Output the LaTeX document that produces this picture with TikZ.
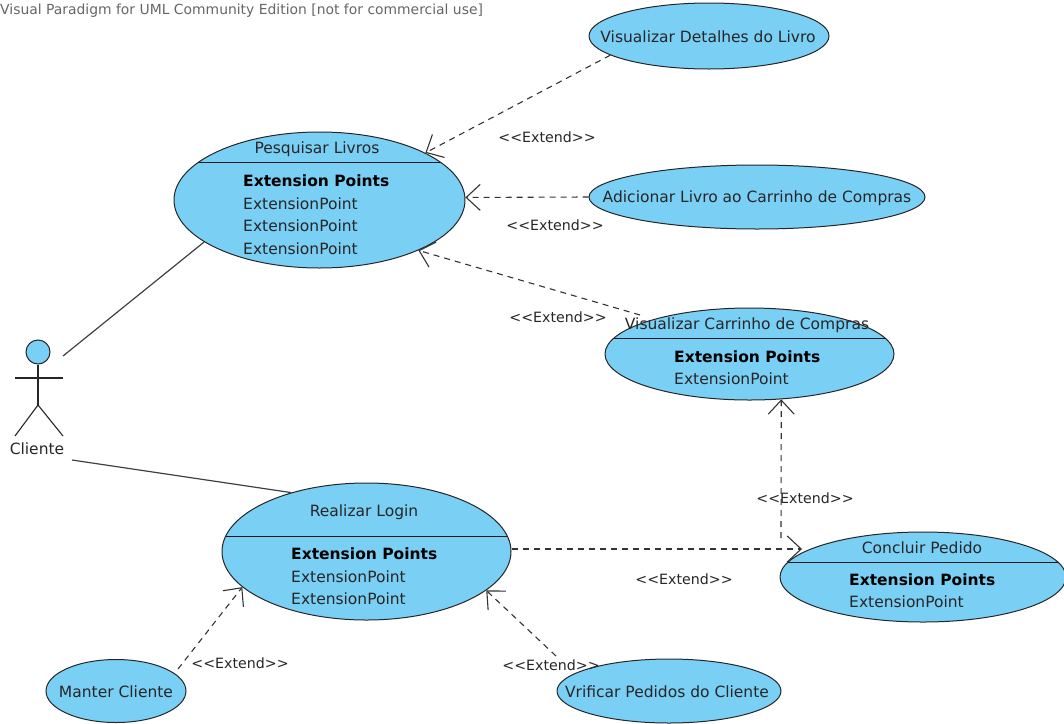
\documentclass[tikz,border=0pt]{standalone}
\usepackage{fontspec}
\setmainfont{DejaVu Sans}
\usetikzlibrary{arrows.meta, shapes.geometric}
\definecolor{ucfill}{RGB}{122,207,245}
\tikzset{
  usecase/.style={ellipse, draw=black!85, fill=ucfill, line width=1pt, inner sep=0pt},
  split/.style={path picture={\draw[black!90, line width=1pt] ([yshift=-#1]path picture bounding box.north west) -- ([yshift=-#1]path picture bounding box.north east);}},
  uctext/.style={font=\fontsize{15.5pt}{17pt}\selectfont, text=black!85, inner sep=0pt},
  ucbold/.style={font=\fontsize{15.5pt}{17pt}\selectfont\bfseries, text=black, anchor=west, inner sep=0pt},
  ucpoint/.style={uctext, anchor=west},
  extendlabel/.style={uctext, font=\fontsize{14.2pt}{16pt}\selectfont},
  extend/.style={black!80, line width=1.1pt, dash pattern=on 6pt off 5pt, -{Straight Barb[length=14pt, width=26pt, line width=1.1pt]}},
  assoc/.style={black!75, line width=1.2pt},
  limb/.style={black!85, line width=1.1pt}
}
\begin{document}
\begin{tikzpicture}[x=1pt, y=-1pt]
\useasboundingbox (0,0) rectangle (1064,723);
\node[uctext, text=black!60, anchor=west, font=\fontsize{13.9pt}{15pt}\selectfont] (banner) at (0,11) {Visual Paradigm for UML Community Edition [not for commercial use]};
% use cases
\node[usecase, minimum width=240pt, minimum height=66pt] (detalhes) at (709,36) {};
\node[usecase, split=30pt, minimum width=291pt, minimum height=136pt] (pesquisar) at (319.5,200) {};
\node[usecase, minimum width=336pt, minimum height=64pt] (adicionar) at (757,197) {};
\node[usecase, split=30pt, minimum width=289pt, minimum height=92pt] (carrinho) at (749.5,354) {};
\node[usecase, split=53pt, minimum width=289pt, minimum height=137pt] (login) at (366.5,551.5) {};
\node[usecase, split=30pt, minimum width=286pt, minimum height=90pt] (concluir) at (923,577) {};
\node[usecase, minimum width=140pt, minimum height=63pt] (manter) at (116,691) {};
\node[usecase, minimum width=224pt, minimum height=64pt] (verificar) at (669,691) {};
% texts of the use cases
\node[uctext] (detalhestxt) at (708,37) {Visualizar Detalhes do Livro};
\node[uctext] (pesquisartxt) at (317,149) {Pesquisar Livros};
\node[ucbold] (pesquisarext) at (243,181) {Extension Points};
\foreach \n/\y in {a/204, b/226, c/249}
    \node[ucpoint] (pesquisar\n) at (243,\y) {ExtensionPoint};
\node[uctext] (adicionartxt) at (757,198) {Adicionar Livro ao Carrinho de Compras};
\node[uctext] (carrinhotxt) at (747,325) {Visualizar Carrinho de Compras};
\node[ucbold] (carrinhoext) at (674,357) {Extension Points};
\node[ucpoint] (carrinhoa) at (674,379) {ExtensionPoint};
\node[uctext] (logintxt) at (364,512) {Realizar Login};
\node[ucbold] (loginext) at (291,554) {Extension Points};
\foreach \n/\y in {a/577, b/599}
    \node[ucpoint] (login\n) at (291,\y) {ExtensionPoint};
\node[uctext] (concluirtxt) at (922,548) {Concluir Pedido};
\node[ucbold] (concluirext) at (849,580) {Extension Points};
\node[ucpoint] (concluira) at (849,602) {ExtensionPoint};
\node[uctext] (mantertxt) at (116,692) {Manter Cliente};
\node[uctext] (verificartxt) at (667,692) {Vrificar Pedidos do Cliente};
% actor
\node[circle, draw=black!85, fill=ucfill, line width=1pt, minimum size=24pt, inner sep=0pt] (head) at (38,352) {};
\coordinate (hip) at (38,405);
\coordinate (armL) at (15,378);
\coordinate (armR) at (63,378);
\coordinate (footL) at (15,436);
\coordinate (footR) at (63,436);
\draw[limb] (head) -- (hip);
\draw[limb] (armL) -- (armR);
\draw[limb] (footL) -- (hip) -- (footR);
\node[uctext] (cliente) at (37,449) {Cliente};
% associations
\coordinate (assocA) at (63,356);
\coordinate (assocB) at (72,460);
\draw[assoc] (assocA) -- (pesquisar.200.8);
\draw[assoc] (assocB) -- (login.142.5);
% extends
\coordinate (concluirtop) at (781,538);
\coordinate (concluirtip) at (802,549);
\coordinate (manterend) at (178,669);
\coordinate (verificarend) at (556,656);
\coordinate (carrinhoend) at (640,315);
\draw[extend] (detalhes.191.8) -- (pesquisar.24.4);
\draw[extend] (adicionar.west) -- (pesquisar.1.2);
\draw[extend] (carrinhoend) -- (pesquisar.-27.2);
\draw[extend] (concluirtop) -- (carrinho.-55);
\draw[extend] (login.east |- concluirtip) -- (concluirtip);
\draw[extend] (manterend) -- (login.196.5);
\draw[extend] (verificarend) -- (login.-18.6);
% labels of the extends
\foreach \n/\x/\y in {a/547/137, b/555/225, c/558/317, d/805/498, e/684/579, f/240/663, g/551/665}
    \node[extendlabel] (extend\n) at (\x,\y) {<{}<Extend>{}>};
\end{tikzpicture}
\end{document}
